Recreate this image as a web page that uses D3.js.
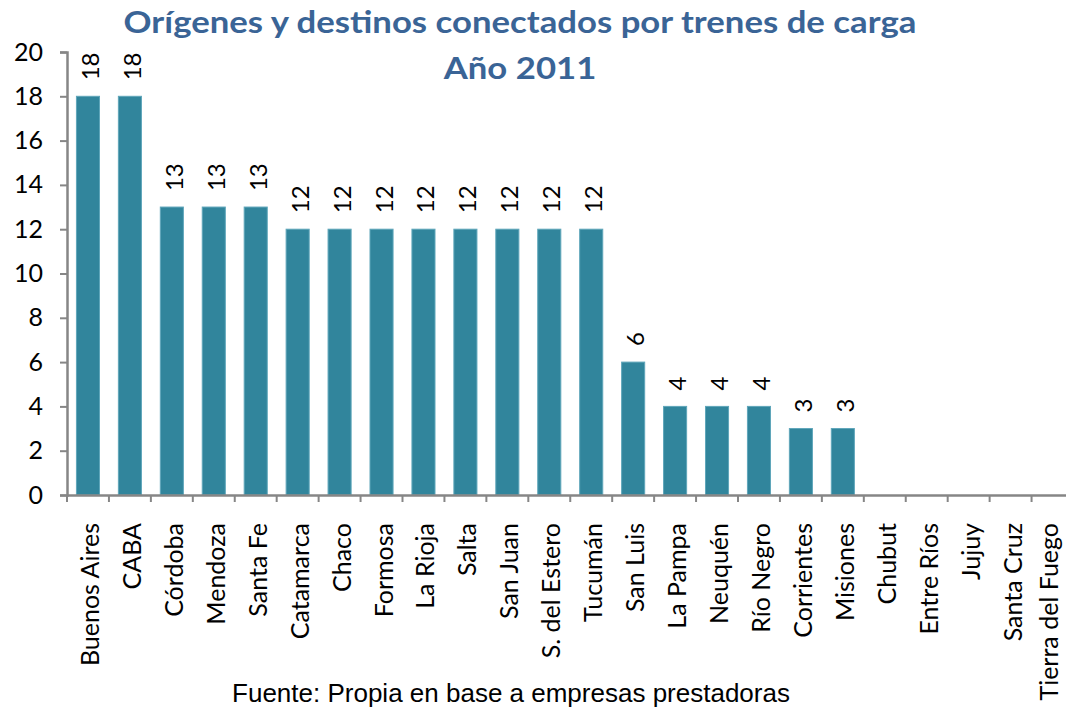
<!DOCTYPE html>
<html>
<head>
<meta charset="utf-8">
<script src="https://d3js.org/d3.v7.min.js"></script>
<style>
  body { margin: 0; background: #fff; }
</style>
</head>
<body>
<svg width="1066" height="709"></svg>
<script>
// DATA

var provinces = ["Buenos Aires", "CABA", "Córdoba", "Mendoza", "Santa Fe", "Catamarca",
  "Chaco", "Formosa", "La Rioja", "Salta", "San Juan", "S. del Estero", "Tucumán",
  "San Luis", "La Pampa", "Neuquén", "Río Negro", "Corrientes", "Misiones",
  "Chubut", "Entre Ríos", "Jujuy", "Santa Cruz", "Tierra del Fuego"];

var connections = [18, 18, 13, 13, 13, 12, 12, 12, 12, 12, 12, 12, 12,
  6, 4, 4, 4, 3, 3, 0, 0, 0, 0, 0];

var yTicks = [0, 2, 4, 6, 8, 10, 12, 14, 16, 18, 20];

var titleLines = ["Orígenes y destinos conectados por trenes de carga", "Año 2011"];
var sourceNote = "Fuente: Propia en base a empresas prestadoras";

// VIEW

var svg = d3.select("svg"),
    width = +svg.attr("width"),
    height = +svg.attr("height");

var x0 = 67, x1 = 1073.5, yTop = 52, yBottom = 495;

var x = d3.scaleBand()
    .domain(provinces)
    .range([x0, x1])
    .paddingInner(0.45)
    .paddingOuter(0.225);

// band scale for tick positions at category boundaries
var xEdge = d3.scaleBand().domain(provinces).range([x0, x1]);

var y = d3.scaleLinear()
    .domain([0, 20])
    .range([yBottom, yTop]);

var font = "Lato, 'Open Sans', sans-serif";

// Title (slightly widened, the original font runs wider than Lato)
svg.append("g")
  .selectAll("text")
  .data(titleLines)
  .enter().append("text")
    .attr("transform", function(d, i) {
      return "translate(520," + (33 + i * 46) + ") scale(1.12,1)";
    })
    .attr("text-anchor", "middle")
    .attr("font-family", font)
    .attr("font-weight", "bold")
    .attr("font-size", "31px")
    .attr("fill", "#3A6496")
    .text(function(d) { return d; });

// Bars
svg.append("g")
  .selectAll("rect")
  .data(connections)
  .enter().append("rect")
    .attr("x", function(d, i) { return x(provinces[i]); })
    .attr("y", function(d) { return y(d); })
    .attr("width", x.bandwidth())
    .attr("height", function(d) { return y(0) - y(d); })
    .attr("fill", "#31859C")
    .attr("stroke", "#5FA6BA")
    .attr("stroke-width", 1)
    .style("display", function(d) { return d > 0 ? null : "none"; });

// Value labels (rotated)
svg.append("g")
  .selectAll("text")
  .data(connections)
  .enter().filter(function(d) { return d > 0; })
  .append("text")
    .attr("transform", function(d, i) {
      var cx = x(provinces[i]) + x.bandwidth() / 2 + 11;
      return "translate(" + cx + "," + (y(d) - 16) + ") rotate(-90)";
    })
    .attr("font-family", font)
    .attr("font-size", "24px")
    .attr("fill", "#000")
    .text(function(d) { return d; });

// Y axis
var yAxis = svg.append("g")
    .attr("transform", "translate(" + x0 + ",0)")
    .call(d3.axisLeft(y).tickValues(yTicks).tickSize(7).tickPadding(17));

yAxis.select(".domain").attr("stroke", "#868686").attr("stroke-width", 2.5);
yAxis.selectAll(".tick line").attr("stroke", "#868686").attr("stroke-width", 2);
yAxis.selectAll(".tick text")
    .attr("font-family", font)
    .attr("font-size", "25px")
    .attr("fill", "#000");

// X axis
var xAxis = svg.append("g")
    .attr("transform", "translate(0," + yBottom + ")")
    .call(d3.axisBottom(xEdge).tickSize(0).tickFormat(""));

xAxis.select(".domain").attr("stroke", "#868686").attr("stroke-width", 2.5);

xAxis.append("g")
  .selectAll("line")
  .data(provinces)
  .enter().append("line")
    .attr("x1", function(d) { return xEdge(d); })
    .attr("x2", function(d) { return xEdge(d); })
    .attr("y1", 0)
    .attr("y2", 7)
    .attr("stroke", "#868686")
    .attr("stroke-width", 2);

// Category labels (rotated)
var labelTop = 523,
    labelRoom = height - labelTop - 4;

svg.append("g")
  .selectAll("text")
  .data(provinces)
  .enter().append("text")
    .attr("transform", function(d) {
      // keep descenders of the last label inside the right edge
      var cx = Math.min(x(d) + x.bandwidth() / 2 + 11, width - 8);
      return "translate(" + cx + "," + labelTop + ") rotate(-90)";
    })
    .attr("text-anchor", "end")
    .attr("font-family", font)
    .attr("font-size", "25px")
    .attr("fill", "#000")
    .text(function(d) { return d; })
    .each(function() {
      // squeeze a label that would run past the bottom edge
      if (this.getComputedTextLength() > labelRoom) {
        d3.select(this)
          .attr("textLength", labelRoom)
          .attr("lengthAdjust", "spacingAndGlyphs");
      }
    });

// Source note
svg.append("text")
    .attr("x", 511)
    .attr("y", 702)
    .attr("text-anchor", "middle")
    .attr("font-family", "'Liberation Sans', Arial, sans-serif")
    .attr("font-size", "26px")
    .attr("fill", "#000")
    .text(sourceNote);
</script>
</body>
</html>
